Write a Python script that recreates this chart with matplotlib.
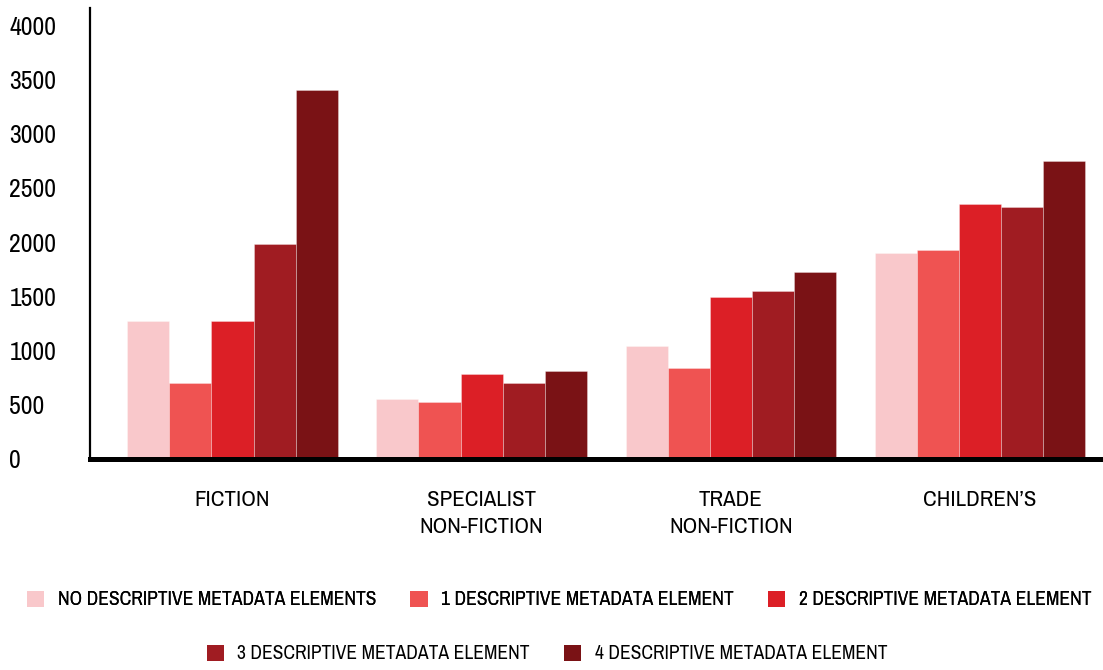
import numpy as np
import matplotlib
matplotlib.use("Agg")
import matplotlib.pyplot as plt
from matplotlib import font_manager
from matplotlib.patches import Patch

# the reference uses a tall condensed face; take a narrow one if there is one
narrow = sorted({f.name for f in font_manager.fontManager.ttflist
                 if 'Narrow' in f.name or 'Condensed' in f.name})
if narrow:
    plt.rcParams['font.family'] = [narrow[0], 'DejaVu Sans']
    scale = 1.0
else:
    plt.rcParams['font.family'] = ['DejaVu Sans']
    plt.rcParams['font.stretch'] = 'condensed'
    scale = 0.8

# data
categories = ['FICTION', 'SPECIALIST\nNON-FICTION', 'TRADE\nNON-FICTION', "CHILDREN\u2019S"]
series_names = ['NO DESCRIPTIVE METADATA ELEMENTS', '1 DESCRIPTIVE METADATA ELEMENT',
                '2 DESCRIPTIVE METADATA ELEMENT', '3 DESCRIPTIVE METADATA ELEMENT',
                '4 DESCRIPTIVE METADATA ELEMENT']
no_elements = [1270, 550, 1040, 1895]
one_element = [700, 525, 840, 1925]
two_elements = [1270, 780, 1490, 2350]
three_elements = [1980, 700, 1550, 2325]
four_elements = [3400, 810, 1725, 2750]
yticks = [0, 500, 1000, 1500, 2000, 2500, 3000, 3500, 4000]

colors = ['#F9C8CB', '#EF5352', '#DC1F26', '#A01C22', '#7A1215']
values = [no_elements, one_element, two_elements, three_elements, four_elements]

fig = plt.figure(figsize=(11.03, 6.70), dpi=100)
ax = fig.add_axes([0.0816, 0.315, 0.9184, 0.673])

x = np.arange(len(categories))
w = 0.169
for i, (vals, c) in enumerate(zip(values, colors)):
    ax.bar(x + (i - 2) * w, vals, width=w, color=c,
           edgecolor=(1, 1, 1, 0.35), linewidth=0.6, zorder=2)

ax.set_xlim(-0.572, 3.494)
ax.set_ylim(0, 4158)
ax.set_xticks(x)
ax.set_xticklabels(categories, fontsize=16.5 * scale, linespacing=1.45)
ax.set_yticks(yticks)
ax.set_yticklabels([str(v) for v in yticks], fontsize=18.5 * scale)
for lab in ax.get_yticklabels():
    lab.set_horizontalalignment('left')
ax.tick_params(axis='y', length=0, pad=58)
ax.tick_params(axis='x', length=0, pad=22)

for s in ['top', 'right']:
    ax.spines[s].set_visible(False)
ax.spines['left'].set_linewidth(1.6)
ax.spines['bottom'].set_linewidth(3.6)
ax.spines['bottom'].set_zorder(3)

handles = [Patch(facecolor=c, edgecolor='none') for c in colors]
kw = dict(frameon=False, fontsize=14.1 * scale, handlelength=0.87, handleheight=0.87,
          handletextpad=0.7, columnspacing=1.75, borderaxespad=0, borderpad=0)
leg1 = fig.legend(handles[:3], series_names[:3], loc='center', ncol=3,
                  bbox_to_anchor=(0.507, 0.1045), **kw)
fig.add_artist(leg1)
fig.legend(handles[3:], series_names[3:], loc='center', ncol=2,
           bbox_to_anchor=(0.496, 0.024), **kw)

fig.savefig('out.png', dpi=100)
